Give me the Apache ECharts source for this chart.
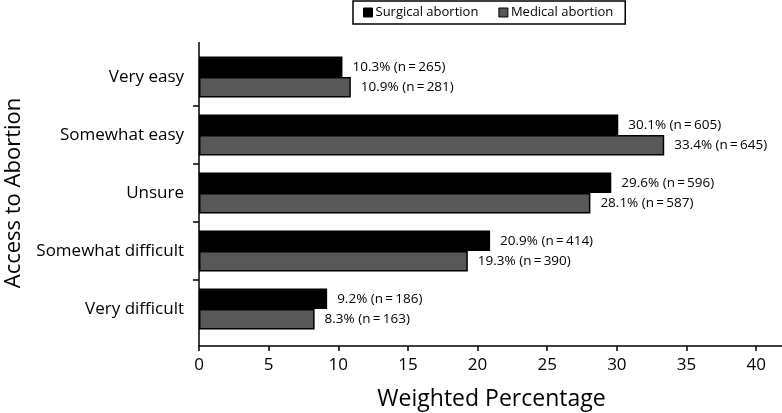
<!DOCTYPE html>
<html>
<head>
<meta charset="utf-8">
<script src="https://cdn.jsdelivr.net/npm/echarts@6/dist/echarts.min.js"></script>
<style>
html,body{margin:0;padding:0;background:#fff;}
#chart{width:782px;height:413px;}
</style>
</head>
<body>
<div id="chart"></div>
<script>
var categories = ['Very easy', 'Somewhat easy', 'Unsure', 'Somewhat difficult', 'Very difficult'];
var surgicalPct = [10.3, 30.1, 29.6, 20.9, 9.2];
var surgicalN = [265, 605, 596, 414, 186];
var medicalPct = [10.9, 33.4, 28.1, 19.3, 8.3];
var medicalN = [281, 645, 587, 390, 163];
var xTicks = [0, 5, 10, 15, 20, 25, 30, 35, 40];
var categoryBoundaries = [1, 2, 3, 4];

var FONT = 'Open Sans';
var G = {left: 199, top: 48, right: -2, bottom: 75, outerBoundsMode: 'none', containLabel: false};
var chart = echarts.init(document.getElementById('chart'));

function lbl(pcts, ns) {
  return function (p) { return pcts[p.dataIndex].toFixed(1) + '% (n\u2009=\u2009' + ns[p.dataIndex] + ')'; };
}

chart.setOption({
  animation: false,
  textStyle: {fontFamily: FONT, color: '#000'},
  legend: {
    left: 353, top: 1,
    padding: [5, 12, 5, 10],
    borderColor: '#000', borderWidth: 1.5,
    icon: 'rect', itemWidth: 9, itemHeight: 9, itemGap: 20,
    itemStyle: {borderWidth: 1},
    textStyle: {fontFamily: FONT, fontSize: 13, color: '#000', padding: [0, 0, 0, -2]},
    data: ['Surgical abortion', 'Medical abortion']
  },
  grid: G,
  xAxis: {
    type: 'value', min: 0, max: 42, interval: 5,
    offset: 8,
    name: 'Weighted Percentage', nameLocation: 'middle', nameGap: 42,
    nameTextStyle: {fontFamily: FONT, fontSize: 23, color: '#000'},
    axisLine: {show: true, onZero: false, lineStyle: {color: '#000', width: 1.5}},
    axisTick: {show: true, length: 5, lineStyle: {color: '#000', width: 1.5}},
    axisLabel: {fontFamily: FONT, fontSize: 17, color: '#000', margin: 11, showMaxLabel: false,
      formatter: function (v) { return xTicks.indexOf(v) >= 0 ? String(v) : ''; }},
    splitLine: {show: false}
  },
  yAxis: [{
    type: 'category', data: categories, inverse: true, position: 'left',
    name: 'Access to Abortion', nameLocation: 'middle', nameGap: 174, nameRotate: 90,
    nameTextStyle: {fontFamily: FONT, fontSize: 22, color: '#000'},
    axisLine: {show: false, onZero: false},
    axisTick: {show: false},
    axisLabel: {fontFamily: FONT, fontSize: 17, color: '#000', margin: 15}
  }, {
    type: 'value', min: 0, max: categories.length, interval: 1, inverse: true, position: 'left',
    axisLine: {show: false, onZero: false},
    axisLabel: {show: false},
    splitLine: {show: false},
    axisTick: {show: true, length: 6, customValues: categoryBoundaries, lineStyle: {color: '#000', width: 1.5}}
  }],
  graphic: [{
    type: 'line', z: 10,
    shape: {x1: G.left, y1: 42, x2: G.left, y2: 346},
    style: {stroke: '#000', lineWidth: 1.5}
  }],
  series: [{
    name: 'Surgical abortion', type: 'bar', data: surgicalPct, yAxisIndex: 0,
    barGap: '0%', barCategoryGap: '29%',
    itemStyle: {color: '#000', borderColor: '#000', borderWidth: 1.5},
    label: {show: true, position: 'right', distance: 10, fontFamily: FONT, fontSize: 13.5, color: '#000',
      formatter: lbl(surgicalPct, surgicalN)}
  }, {
    name: 'Medical abortion', type: 'bar', data: medicalPct, yAxisIndex: 0,
    barGap: '0%', barCategoryGap: '29%',
    itemStyle: {color: '#585858', borderColor: '#000', borderWidth: 1.5},
    label: {show: true, position: 'right', distance: 10, fontFamily: FONT, fontSize: 13.5, color: '#000',
      formatter: lbl(medicalPct, medicalN)}
  }]
});
</script>
</body>
</html>
